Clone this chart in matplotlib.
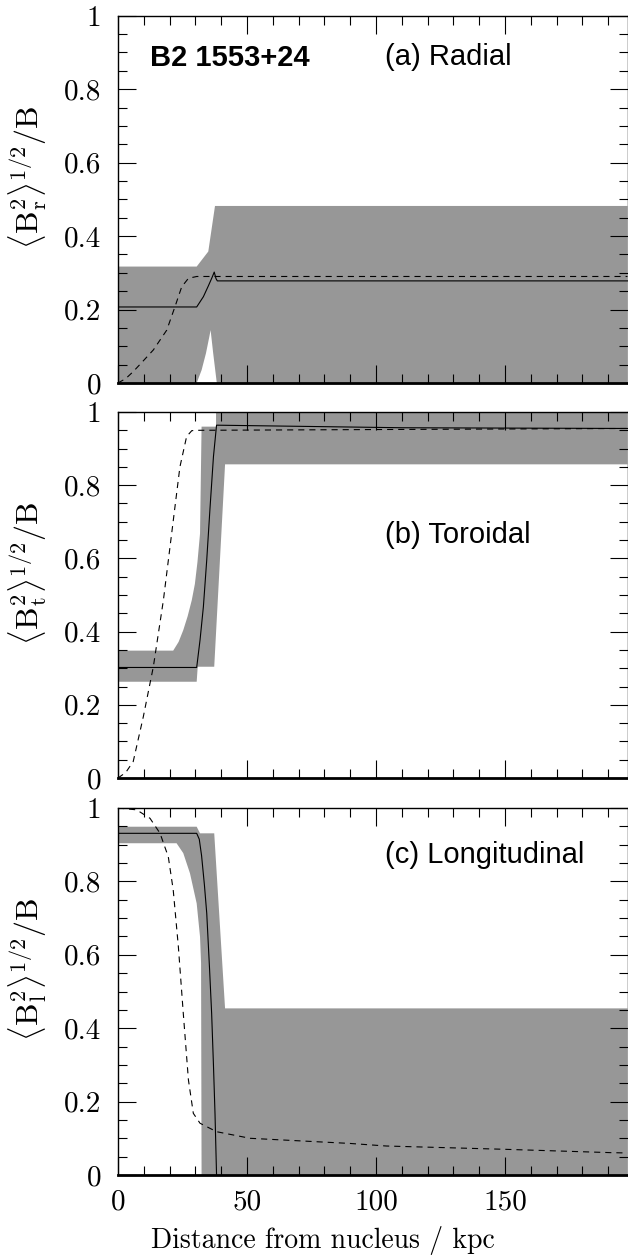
import numpy as np
import matplotlib
matplotlib.use("Agg")
import matplotlib.pyplot as plt
from matplotlib.ticker import MultipleLocator, FuncFormatter

plt.rcParams["font.family"] = "cmr10"
plt.rcParams["mathtext.fontset"] = "cm"
plt.rcParams["axes.formatter.use_mathtext"] = True

XMAX = 197.5
GREY = "#979797"

# ---------------------------------------------------------------------------
# (a) radial component
# ---------------------------------------------------------------------------
rad_band_hi_x = [0, 30.5, 35.0, 37.6, XMAX]
rad_band_hi_y = [0.317, 0.317, 0.358, 0.482, 0.482]
rad_band_lo_x = [0, 30.5, 32.4, 34.1, 35.4, 35.9, 36.9, 38.3, XMAX]
rad_band_lo_y = [0, 0, 0.035, 0.081, 0.126, 0.144, 0.081, 0, 0]
rad_fit_x = [0, 30.5, 33.1, 35.0, 36.5, 37.3, 38.0, 38.5, XMAX]
rad_fit_y = [0.207, 0.207, 0.235, 0.264, 0.288, 0.302, 0.284, 0.278, 0.278]
rad_mod_x = [0, 3.0, 5.9, 9.5, 13.7, 18.9, 22.1, 24.7, 27.3, 30.5, XMAX]
rad_mod_y = [0, 0.012, 0.031, 0.058, 0.090, 0.144, 0.208, 0.262, 0.285, 0.290, 0.290]

# ---------------------------------------------------------------------------
# (b) toroidal component
# ---------------------------------------------------------------------------
tor_band_hi_x = [0, 21.4, 23.5, 25.3, 27.0, 28.6, 29.8, 30.8, 31.8, 32.4, 38.0, 38.0, XMAX]
tor_band_hi_y = [0.348, 0.348, 0.372, 0.404, 0.442, 0.486, 0.530, 0.590, 0.668, 0.960,
                 0.960, 1.05, 1.05]
tor_band_lo_x = [0, 30.5, 30.9, 37.3, 41.5, XMAX]
tor_band_lo_y = [0.263, 0.263, 0.304, 0.304, 0.857, 0.857]
tor_fit_x = [0, 30.5, 31.8, 33.1, 34.4, 35.7, 37.0, 38.2, 110, XMAX]
tor_fit_y = [0.302, 0.302, 0.377, 0.468, 0.596, 0.741, 0.878, 0.964, 0.957, 0.955]
tor_mod_x = [0, 0.8, 3.0, 5.9, 9.8, 13.7, 17.6, 20.8, 24.0, 26.6, 28.6, 31.0, XMAX]
tor_mod_y = [0, 0.004, 0.015, 0.045, 0.167, 0.304, 0.486, 0.668, 0.850, 0.933, 0.949, 0.950, 0.955]

# ---------------------------------------------------------------------------
# (c) longitudinal component
# ---------------------------------------------------------------------------
lon_band_hi_x = [0, 30.5, 31.8, 37.3, 41.5, XMAX]
lon_band_hi_y = [0.949, 0.949, 0.931, 0.931, 0.454, 0.454]
lon_band_lo_x = [0, 22.7, 25.3, 27.9, 30.5, 31.8, 32.2, 32.4, XMAX]
lon_band_lo_y = [0.904, 0.904, 0.877, 0.822, 0.740, 0.649, 0.577, 0, 0]
lon_fit_x = [0, 30.5, 31.5, 32.4, 33.5, 34.4, 35.5, 36.3, 37.0, 37.6, 38.2]
lon_fit_y = [0.931, 0.931, 0.915, 0.870, 0.790, 0.713, 0.560, 0.440, 0.300, 0.168, 0.0]
lon_mod_x = [0, 7.2, 12.4, 16.3, 19.5, 21.4, 23.4, 25.3, 27.3, 29.2, 31.8, 38.2,
             51.2, 89.9, 104, 150, 190.7, XMAX]
lon_mod_y = [1.0, 0.995, 0.972, 0.931, 0.867, 0.777, 0.622, 0.441, 0.259, 0.168,
             0.141, 0.118, 0.100, 0.086, 0.079, 0.070, 0.061, 0.060]

panels = [
    dict(hi=(rad_band_hi_x, rad_band_hi_y), lo=(rad_band_lo_x, rad_band_lo_y),
         fit=(rad_fit_x, rad_fit_y), mod=(rad_mod_x, rad_mod_y),
         sub="r", label="(a) Radial", label_y=0.866),
    dict(hi=(tor_band_hi_x, tor_band_hi_y), lo=(tor_band_lo_x, tor_band_lo_y),
         fit=(tor_fit_x, tor_fit_y), mod=(tor_mod_x, tor_mod_y),
         sub="t", label="(b) Toroidal", label_y=0.641),
    dict(hi=(lon_band_hi_x, lon_band_hi_y), lo=(lon_band_lo_x, lon_band_lo_y),
         fit=(lon_fit_x, lon_fit_y), mod=(lon_mod_x, lon_mod_y),
         sub="l", label="(c) Longitudinal", label_y=0.849),
]

fig = plt.figure(figsize=(6.28, 12.56), dpi=100)
left, width = 118 / 628, 509.5 / 628
boxes = [(15.7, 383), (412, 778), (808, 1175)]

for i, (p, (top, bot)) in enumerate(zip(panels, boxes)):
    ax = fig.add_axes([left, 1 - bot / 1256, width, (bot - top) / 1256])

    xs = np.r_[p["hi"][0], p["lo"][0][::-1]]
    ys = np.r_[p["hi"][1], p["lo"][1][::-1]]
    ax.fill(xs, ys, color=GREY, lw=0, zorder=1)
    ax.plot(*p["fit"], color="black", lw=0.8, zorder=3)
    ax.plot(*p["mod"], color="black", lw=0.8, ls=(0, (5.5, 4.5)), zorder=3)

    ax.set_xlim(0, XMAX)
    ax.set_ylim(0, 1)
    ax.set_axisbelow(False)
    ax.xaxis.set_major_locator(MultipleLocator(50))
    ax.xaxis.set_minor_locator(MultipleLocator(10))
    ax.yaxis.set_major_locator(MultipleLocator(0.2))
    ax.yaxis.set_minor_locator(MultipleLocator(0.05))
    ax.yaxis.set_major_formatter(FuncFormatter(lambda v, _: "%g" % round(v, 2)))
    ax.xaxis.set_major_formatter(FuncFormatter(lambda v, _: "%g" % v))
    ax.tick_params(which="both", direction="in", top=True, right=True,
                   width=0.8, labelsize=21, pad=10)
    ax.tick_params(which="major", length=13)
    ax.tick_params(which="minor", length=6.5)
    ax.tick_params(axis="y", pad=12)
    if i < 2:
        ax.tick_params(axis="x", labelbottom=False)
    for s in ax.spines.values():
        s.set_linewidth(1.0)
    ax.spines["bottom"].set_linewidth(2.0)

    ax.set_ylabel(r"$\langle{\rm B}_{\rm %s}^2\rangle^{1/2}/{\rm B}$" % p["sub"],
                  fontsize=23)
    ax.yaxis.set_label_coords(-0.135, 0.56)

    ax.text(103.5, p["label_y"], p["label"], family="Liberation Sans",
            fontsize=21, ha="left", va="baseline", zorder=4)
    if i == 0:
        ax.text(12.4, 0.862, "B2 1553+24", family="Liberation Sans",
                fontweight="bold", fontsize=21, ha="left", va="baseline", zorder=4)
    if i == 2:
        ax.set_xlabel("Distance from nucleus / kpc", fontsize=20)
        ax.xaxis.set_label_coords(0.402, -0.138)

fig.savefig("out.png", dpi=100)
